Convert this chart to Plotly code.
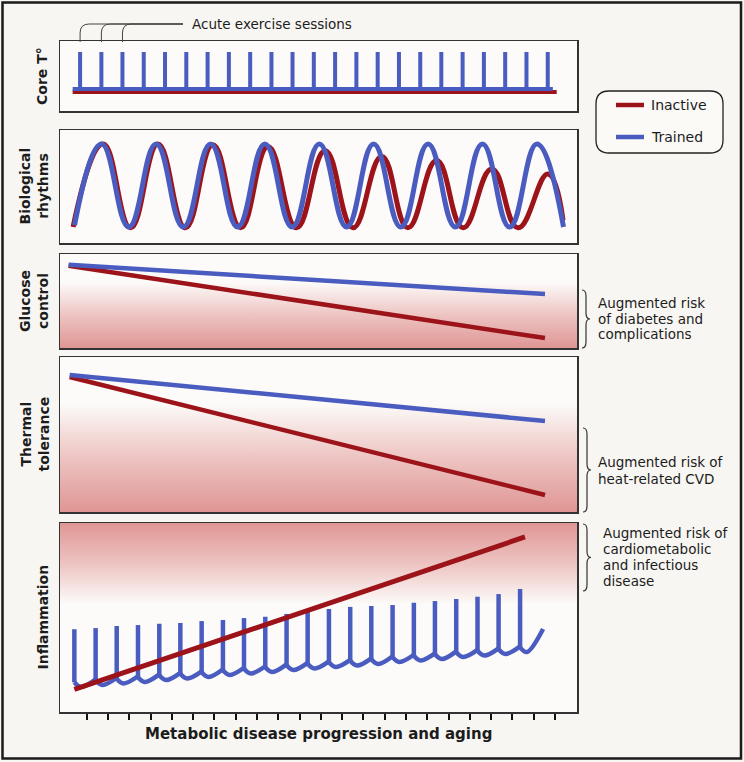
import plotly.graph_objects as go

W, H = 744, 762

BLUE = "#4a5cc0"
RED = "#9c1419"
PAPER_BG = "#f7f6f2"
PANEL_BG = "#fcfbf9"
INK = "#1c1c1c"
PINK = "rgb(223,150,148)"
FONT = "DejaVu Sans"

# ---------------- data ----------------
tick_positions = list(range(23))

# Core temperature: acute exercise sessions (spikes)
core_sessions = [-0.31, 0.69, 1.68, 2.68, 3.68, 4.68, 5.68, 6.68, 7.68, 8.68, 9.67,
                 10.67, 11.67, 12.67, 13.67, 14.67, 15.67, 16.66, 17.66, 18.66,
                 19.66, 20.66, 21.66]
core_trained_base = 0.0
core_trained_peak = 1.0
core_inactive_base = -0.08
core_trained_span = [-0.66, 21.90]
core_inactive_span = [-0.66, 22.08]

# Biological rhythms: successive extremes (trough / peak)
rhythm_trained_x = [-0.57, 0.70, 1.98, 3.26, 4.54, 5.82, 7.09, 8.37, 9.65, 10.93,
                    12.21, 13.48, 14.76, 16.04, 17.32, 18.59, 19.87, 21.15, 22.40]
rhythm_trained_y = [0.02, 1.0, 0.0, 1.0, 0.0, 1.0, 0.0, 1.0, 0.0, 1.0,
                    0.0, 1.0, 0.0, 1.0, 0.0, 1.0, 0.0, 1.0, 0.0]
rhythm_inactive_x = [-0.64, 0.77, 2.06, 3.35, 4.64, 5.93, 7.23, 8.52, 9.86, 11.20,
                     12.51, 13.86, 15.09, 16.44, 17.68, 19.03, 20.26, 21.67, 22.38]
rhythm_inactive_y = [0.0, 1.0, -0.01, 1.0, -0.01, 0.99, -0.01, 0.97, -0.01, 0.92,
                     -0.01, 0.85, -0.01, 0.80, -0.01, 0.70, -0.01, 0.64, 0.08]

# Glucose control
glucose_x = [-0.85, 21.53]
glucose_inactive = [0.875, 0.106]
glucose_trained = [0.885, 0.574]

# Thermal tolerance
thermal_x = [-0.80, 21.53]
thermal_inactive = [0.871, 0.110]
thermal_trained = [0.884, 0.587]

# Inflammation
infl_inactive_x = [-0.58, 20.59]
infl_inactive_y = [0.12, 0.926]
infl_sessions = [-0.58, 0.42, 1.41, 2.41, 3.41, 4.40, 5.40, 6.40, 7.39, 8.39, 9.39,
                 10.38, 11.38, 12.38, 13.37, 14.37, 15.37, 16.36, 17.36, 18.36,
                 19.35, 20.36]
infl_peak = [0.438, 0.444, 0.455, 0.460, 0.467, 0.471, 0.481, 0.487, 0.497, 0.504,
             0.519, 0.536, 0.545, 0.556, 0.561, 0.566, 0.578, 0.587, 0.598, 0.610,
             0.624, 0.651]
infl_trough = [0.132, 0.143, 0.151, 0.159, 0.169, 0.177, 0.185, 0.196, 0.204, 0.212,
               0.222, 0.230, 0.238, 0.246, 0.254, 0.265, 0.273, 0.280, 0.291, 0.299,
               0.307, 0.317]
infl_prespike = [None, 0.173, 0.181, 0.189, 0.199, 0.207, 0.215, 0.226, 0.234, 0.242,
                 0.252, 0.260, 0.268, 0.276, 0.284, 0.295, 0.303, 0.310, 0.321, 0.329,
                 0.337, 0.347]
infl_end = (21.44, 0.439)

# ---------------- layout geometry ----------------
X_RANGE = [-1.254, 23.034]
PANEL_X = [60, 577]
panels = [(41, 111), (130, 243), (254, 348), (357, 512), (523, 712)]
y_ranges = [[-0.595, 1.297], [-0.193, 1.169], [0, 1], [0, 1], [0, 1]]
panel_titles = [["Core T°"], ["Biological", "rhythms"], ["Glucose", "control"],
                ["Thermal", "tolerance"], ["Inflammation"]]


def X(p):
    return p / W


def Y(p):
    return 1 - p / H


def names(i):
    return ("x" if i == 1 else f"x{i}", "y" if i == 1 else f"y{i}")


fig = go.Figure()


def add_line(i, x, y, color, width, shape="linear", smoothing=1.0):
    xa, ya = names(i)
    fig.add_trace(go.Scatter(x=x, y=y, mode="lines", xaxis=xa, yaxis=ya,
                             line=dict(color=color, width=width, shape=shape,
                                       smoothing=smoothing),
                             connectgaps=False, hoverinfo="skip", showlegend=False))


def gradient_band(i, y0, y1, colorscale):
    xa, ya = names(i)
    fig.add_trace(go.Scatter(
        x=[X_RANGE[0], X_RANGE[1], X_RANGE[1], X_RANGE[0], X_RANGE[0]],
        y=[y0, y0, y1, y1, y0], mode="none", fill="toself",
        fillgradient=dict(type="vertical", colorscale=colorscale, start=y0, stop=y1),
        xaxis=xa, yaxis=ya, hoverinfo="skip", showlegend=False))


# Panel 1 - Core T
add_line(1, core_inactive_span, [core_inactive_base] * 2, RED, 4)
cx, cy = [core_trained_span[0]], [core_trained_base]
for s in core_sessions:
    cx += [s, s, s]
    cy += [core_trained_base, core_trained_peak, core_trained_base]
cx.append(core_trained_span[1])
cy.append(core_trained_base)
add_line(1, cx, cy, BLUE, 4)

# Panel 2 - rhythms
add_line(2, rhythm_inactive_x, rhythm_inactive_y, RED, 5, "spline", 1.3)
add_line(2, rhythm_trained_x, rhythm_trained_y, BLUE, 5, "spline", 1.3)

# Panel 3 - glucose
up_scale = [[0, PINK], [0.5, "rgb(237,196,194)"], [1, PANEL_BG]]
gradient_band(3, 0, 0.70, up_scale)
add_line(3, glucose_x, glucose_inactive, RED, 4.5)
add_line(3, glucose_x, glucose_trained, BLUE, 4.5)

# Panel 4 - thermal
gradient_band(4, 0, 0.70, up_scale)
add_line(4, thermal_x, thermal_inactive, RED, 4.5)
add_line(4, thermal_x, thermal_trained, BLUE, 4.5)

# Panel 5 - inflammation
down_scale = [[0, PANEL_BG], [0.5, "rgb(237,196,194)"], [1, PINK]]
gradient_band(5, 0.57, 1.0, down_scale)
sx, sy = [], []   # vertical spikes (straight)
ux, uy = [], []   # recovery curves between sessions (smooth)
n = len(infl_sessions)
for k in range(n):
    s = infl_sessions[k]
    low = infl_trough[k] + 0.025
    sx += [s, s, None]
    sy += [infl_peak[k], low, None]
    if k + 1 < n:
        nxt = (infl_sessions[k + 1], infl_prespike[k + 1])
    else:
        nxt = infl_end
    ux += [s, s + 0.32, nxt[0], None]
    uy += [low, infl_trough[k], nxt[1], None]
add_line(5, ux, uy, BLUE, 4.5, "spline", 1.0)
add_line(5, sx, sy, BLUE, 4.5)
add_line(5, infl_inactive_x, infl_inactive_y, RED, 5)

# axes
layout_axes = {}
for i, ((top, bot), yr) in enumerate(zip(panels, y_ranges), start=1):
    xa, ya = names(i)
    xkey = "xaxis" if i == 1 else f"xaxis{i}"
    ykey = "yaxis" if i == 1 else f"yaxis{i}"
    xdict = dict(domain=[X(PANEL_X[0]), X(PANEL_X[1])], range=X_RANGE, anchor=ya,
                 showgrid=False, zeroline=False, showline=True, mirror=True,
                 linecolor="#333333", linewidth=1.5, showticklabels=False, ticks="")
    if i == 5:
        xdict.update(ticks="outside", tickvals=tick_positions, ticklen=6,
                     tickwidth=2, tickcolor="#111111")
    ydict = dict(domain=[Y(bot), Y(top)], range=yr, anchor=xa, showgrid=False,
                 zeroline=False, showline=True, mirror=True, linecolor="#333333",
                 linewidth=1.5, showticklabels=False, ticks="")
    layout_axes[xkey] = xdict
    layout_axes[ykey] = ydict

annotations = []
shapes = []

# y titles
for (top, bot), lines in zip(panels, panel_titles):
    annotations.append(dict(
        x=X(42 if len(lines) == 1 else 34), y=Y((top + bot) / 2), xref="paper", yref="paper",
        text="<br>".join(lines), textangle=-90, showarrow=False,
        font=dict(family=FONT, size=14, color=INK, weight="bold"),
        xanchor="center", yanchor="middle"))

# x title
annotations.append(dict(x=X(318), y=Y(734), xref="paper", yref="paper",
                        text="Metabolic disease progression and aging", showarrow=False,
                        font=dict(family=FONT, size=15, color=INK, weight="bold"),
                        xanchor="center", yanchor="middle"))

# right-side risk labels
risk_text = [
    (596, [303, 319, 334], ["Augmented risk", "of diabetes and", "complications"]),
    (596, [462, 479], ["Augmented risk of", "heat-related CVD"]),
    (601, [533, 549, 565, 581], ["Augmented risk of", "cardiometabolic", "and infectious", "disease"]),
]
for xl, ys, lines in risk_text:
    for yy, t in zip(ys, lines):
        annotations.append(dict(x=X(xl), y=Y(yy), xref="paper", yref="paper", text=t,
                                showarrow=False, xanchor="left", yanchor="middle",
                                font=dict(family=FONT, size=13.5, color=INK)))


def P(a, b):
    return f"{X(a):.5f},{Y(b):.5f}"


# braces
def brace(x0, yt, yb, w=8, r=6):
    xm = x0 + w * 0.5
    x1 = x0 + w
    ym = (yt + yb) / 2
    return (f"M {P(x0, yt)} Q {P(xm, yt)} {P(xm, yt + r)} L {P(xm, ym - r)} "
            f"Q {P(xm, ym)} {P(x1, ym)} Q {P(xm, ym)} {P(xm, ym + r)} "
            f"L {P(xm, yb - r)} Q {P(xm, yb)} {P(x0, yb)}")


for x0, yt, yb in [(582, 290, 348), (583, 428, 512), (583, 524, 591)]:
    shapes.append(dict(type="path", xref="paper", yref="paper", path=brace(x0, yt, yb),
                       line=dict(color="#333333", width=1.2)))


# acute exercise session connectors
def data_to_px(s):
    return PANEL_X[0] + (s - X_RANGE[0]) / (X_RANGE[1] - X_RANGE[0]) * (PANEL_X[1] - PANEL_X[0])


for s in core_sessions[:3]:
    px_ = data_to_px(s)
    shapes.append(dict(type="path", xref="paper", yref="paper",
                       path=f"M {P(px_, 42)} L {P(px_, 33)} Q {P(px_, 24)} {P(px_ + 9, 24)} L {P(183, 24)}",
                       line=dict(color="#444444", width=1)))
annotations.append(dict(x=X(190), y=Y(24), xref="paper", yref="paper",
                        text="Acute exercise sessions", showarrow=False,
                        xanchor="left", yanchor="middle",
                        font=dict(family=FONT, size=13.5, color=INK)))


# legend box
def rounded(x0, y0, x1, y1, r):
    return (f"M {P(x0 + r, y0)} L {P(x1 - r, y0)} Q {P(x1, y0)} {P(x1, y0 + r)} "
            f"L {P(x1, y1 - r)} Q {P(x1, y1)} {P(x1 - r, y1)} L {P(x0 + r, y1)} "
            f"Q {P(x0, y1)} {P(x0, y1 - r)} L {P(x0, y0 + r)} Q {P(x0, y0)} {P(x0 + r, y0)} Z")


shapes.append(dict(type="path", xref="paper", yref="paper", path=rounded(596, 91, 723, 153, 13),
                   line=dict(color="#222222", width=1.3), fillcolor="#fbfaf7"))
legend_items = [("Inactive", RED, 105), ("Trained", BLUE, 137)]
for label, color, yy in legend_items:
    shapes.append(dict(type="line", xref="paper", yref="paper", x0=X(616), x1=X(644),
                       y0=Y(yy), y1=Y(yy), line=dict(color=color, width=4.5)))
    annotations.append(dict(x=X(649), y=Y(yy), xref="paper", yref="paper", text=label,
                            showarrow=False, xanchor="left", yanchor="middle",
                            font=dict(family=FONT, size=14, color=INK)))

# outer frame
shapes.append(dict(type="rect", xref="paper", yref="paper", x0=X(2.5), x1=X(741),
                   y0=Y(758.5), y1=Y(2.5), line=dict(color="#1a1a1a", width=2.5)))

fig.update_layout(
    width=W, height=H, autosize=False,
    margin=dict(l=0, r=0, t=0, b=0),
    paper_bgcolor=PAPER_BG, plot_bgcolor=PANEL_BG,
    showlegend=False, annotations=annotations, shapes=shapes,
    **layout_axes,
)

fig.write_html("out.html", config={"displayModeBar": False, "staticPlot": True},
               post_script="document.body.style.margin='0';")
